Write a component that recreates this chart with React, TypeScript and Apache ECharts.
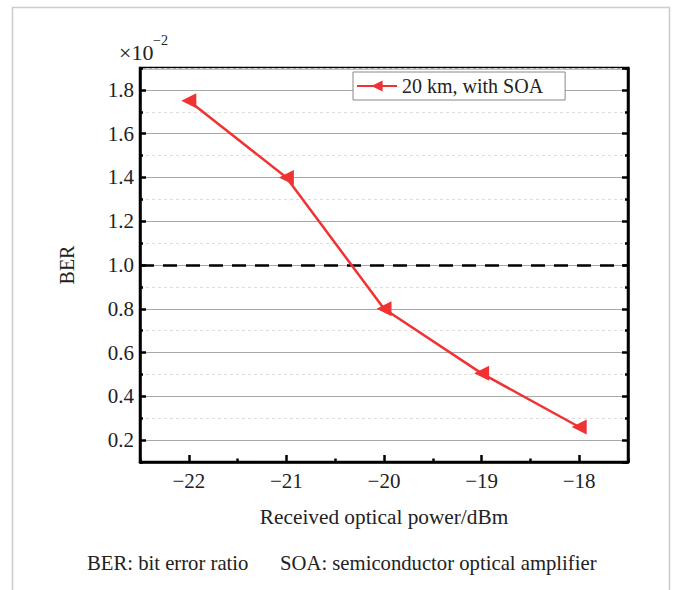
import React, { useEffect, useRef } from 'react';
import * as echarts from 'echarts';

const powerDbm = [-22, -21, -20, -19, -18];
const berScaled = [1.75, 1.4, 0.8, 0.505, 0.26];
const seriesName = '20 km, with SOA';
const berThreshold = 1.0;
const xMin = -22.5;
const xMax = -17.5;
const yMin = 0.1;
const yMax = 1.9;
const xTitle = 'Received optical power/dBm';
const yTitle = 'BER';
const scaleBase = '×10';
const scaleExp = '−2';
const noteBer = 'BER: bit error ratio';
const noteSoa = 'SOA: semiconductor optical amplifier';

const serif = 'Liberation Serif';
const red = '#f03232';
const ink = '#222';

const fmtX = (v: number) => {
  if (Math.abs(v - Math.round(v)) > 1e-6) return '';
  const r = Math.round(v);
  return r < 0 ? '\u2212' + Math.abs(r) : String(r);
};
const fmtY = (v: number) => {
  const k = Math.round(v * 10);
  if (k % 2 !== 0) return '';
  return (k / 10).toFixed(1);
};

export default function App() {
  const ref = useRef<HTMLDivElement>(null);
  useEffect(() => {
    if (!ref.current) return;
    const chart = echarts.init(ref.current, undefined, { renderer: 'svg' });
    const axisLine = { show: true, lineStyle: { color: '#000', width: 2.5 } };
    const option: any = {
      animation: false,
      backgroundColor: '#fff',
      textStyle: { fontFamily: serif },
      grid: { left: 140, right: 49, top: 68, bottom: 128, show: true, borderColor: '#000', borderWidth: 2.5, backgroundColor: 'transparent' },
      legend: {
        left: 353,
        top: 72,
        data: [seriesName],
        itemWidth: 40,
        itemHeight: 14,
        itemGap: 0,
        padding: [4, 22, 4, 3],
        borderColor: '#888',
        borderWidth: 1,
        backgroundColor: '#fff',
        textStyle: { fontFamily: serif, fontSize: 20, color: ink },
      },
      xAxis: [
        {
          type: 'value', min: xMin, max: xMax, splitNumber: 5, position: 'bottom',
          axisLine,
          axisTick: { show: true, inside: true, length: 7, lineStyle: { color: '#000', width: 2.5 } },
          axisLabel: { formatter: fmtX, showMinLabel: false, showMaxLabel: false, fontFamily: serif, fontSize: 21, color: ink, margin: 8 },
          splitLine: { show: false },
          name: xTitle, nameLocation: 'middle', nameGap: 44,
          nameTextStyle: { fontFamily: serif, fontSize: 21.3, color: ink },
        },
        {
          type: 'value', min: xMin, max: xMax, interval: 1, position: 'bottom',
          axisLine: { show: false },
          axisTick: { show: true, inside: true, length: 3.5, lineStyle: { color: '#000', width: 2.5 } },
          axisLabel: { show: false },
          splitLine: { show: false },
        },
      ],
      yAxis: [
        {
          type: 'value', min: yMin, max: yMax, splitNumber: 9, position: 'left',
          axisLine,
          axisTick: { show: true, inside: true, length: 6, lineStyle: { color: '#000', width: 2.5 } },
          axisLabel: { formatter: fmtY, showMinLabel: false, showMaxLabel: false, fontFamily: serif, fontSize: 21, color: ink, margin: 6 },
          splitLine: { show: true, lineStyle: { color: '#a8a8a8', width: 1 } },
          name: yTitle, nameLocation: 'middle', nameGap: 63, nameRotate: 90,
          nameTextStyle: { fontFamily: serif, fontSize: 20, color: ink },
        },
        {
          type: 'value', min: yMin, max: yMax, interval: 0.2, position: 'left',
          axisLine: { show: false },
          axisTick: { show: true, inside: true, length: 3, lineStyle: { color: '#000', width: 2.5 } },
          axisLabel: { show: false },
          splitLine: { show: true, lineStyle: { color: '#dcdcdc', width: 1, type: [3, 3] } },
        },
        {
          type: 'value', min: yMin, max: yMax, splitNumber: 9, position: 'right',
          axisLine,
          axisTick: { show: true, inside: true, length: 6, lineStyle: { color: '#000', width: 2.5 } },
          axisLabel: { show: false },
          splitLine: { show: false },
        },
        {
          type: 'value', min: yMin, max: yMax, interval: 0.2, position: 'right',
          axisLine: { show: false },
          axisTick: { show: true, inside: true, length: 3, lineStyle: { color: '#000', width: 2.5 } },
          axisLabel: { show: false },
          splitLine: { show: false },
        },
      ],
      series: [
        {
          name: seriesName,
          type: 'line',
          xAxisIndex: 0,
          yAxisIndex: 0,
          data: powerDbm.map((x, i) => [x, berScaled[i]]),
          symbol: 'triangle',
          symbolSize: 15,
          symbolRotate: 90,
          itemStyle: { color: red },
          lineStyle: { color: red, width: 2.5 },
          z: 5,
          markLine: {
            silent: true,
            symbol: 'none',
            label: { show: false },
            lineStyle: { color: '#000', type: [14, 9], width: 2.5 },
            data: [{ yAxis: berThreshold }],
            z: 3,
          },
        },
      ],
      graphic: [
        { type: 'rect', left: 10, top: 5, shape: { width: 657, height: 600 }, style: { fill: 'none', stroke: '#cccccc', lineWidth: 1.5 }, silent: true },
        { type: 'text', x: 119, y: 41, style: { text: scaleBase, fontFamily: serif, fontSize: 22, fill: ink } },
        { type: 'text', x: 153, y: 33, style: { text: scaleExp, fontFamily: serif, fontSize: 14, fill: ink } },
        { type: 'text', x: 87, y: 563, style: { text: noteBer, fontFamily: serif, fontSize: 20.7, fill: ink, verticalAlign: 'middle' } },
        { type: 'text', x: 280, y: 563, style: { text: noteSoa, fontFamily: serif, fontSize: 20.7, fill: ink, verticalAlign: 'middle' } },
      ],
    };
    chart.setOption(option);
    return () => chart.dispose();
  }, []);
  return <div ref={ref} style={{ position: 'fixed', left: 0, top: 0, width: 677, height: 590 }} />;
}
